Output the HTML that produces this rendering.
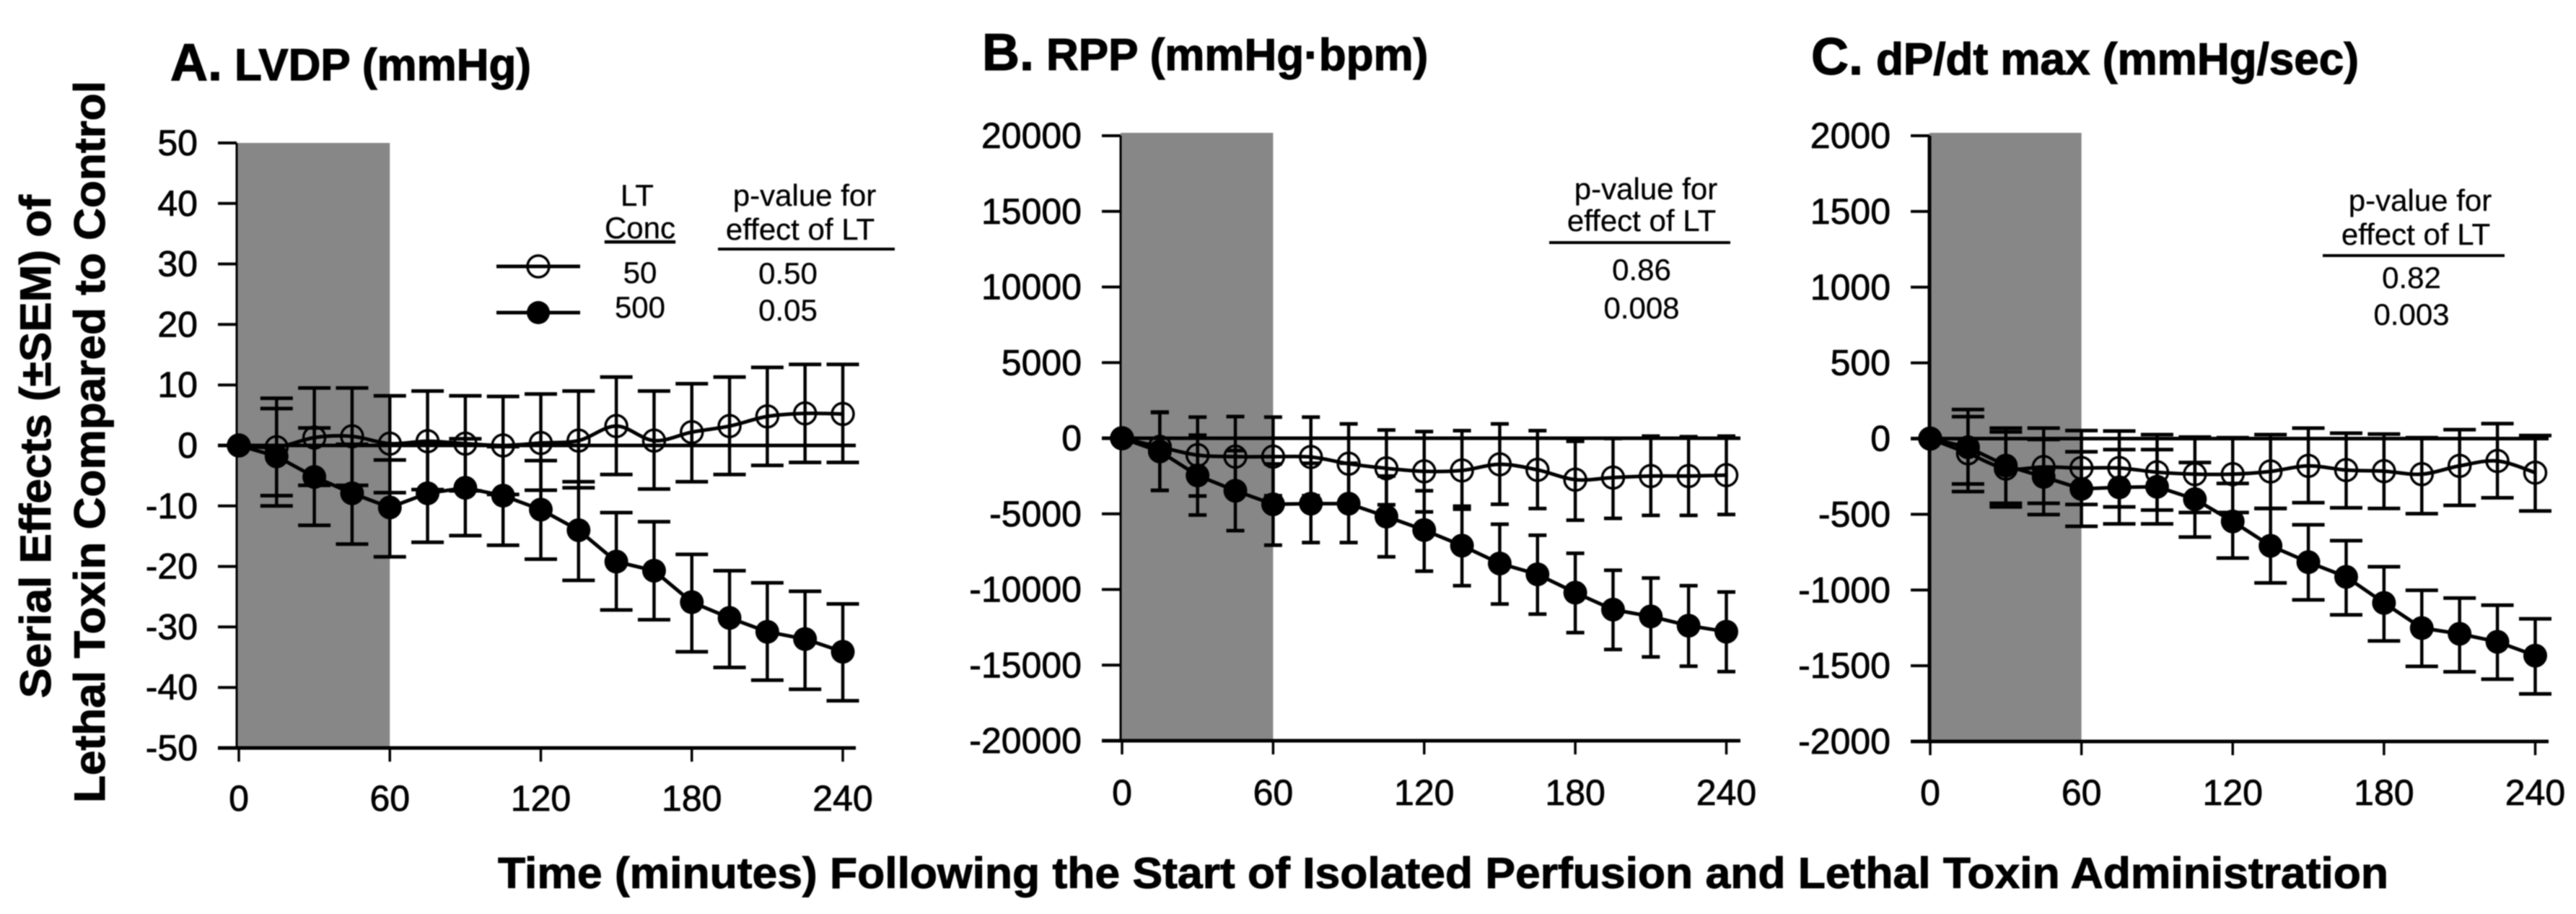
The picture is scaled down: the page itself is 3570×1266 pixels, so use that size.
<!DOCTYPE html>
<html lang="en">
<head>
<meta charset="utf-8">
<title>Serial Effects of Lethal Toxin Compared to Control</title>
<style>
html,body{margin:0;padding:0;background:#fff;}
svg{display:block;filter:blur(0.7px);}
text{font-family:"Liberation Sans",Arial,sans-serif;fill:#000;}
.tick{font-size:50px;stroke:#000;stroke-width:0.8px;}
.note{font-size:42px;stroke:#000;stroke-width:0.3px;}
.ttl{font-weight:bold;font-size:62px;stroke:#000;stroke-width:1.2px;}
.ttl-l{font-weight:bold;font-size:72px;stroke:#000;stroke-width:1.2px;}
.axt{font-weight:bold;font-size:60px;stroke:#000;stroke-width:1px;}
</style>
</head>
<body>
<svg id="fig" xmlns="http://www.w3.org/2000/svg" width="3570" height="1266" viewBox="0 0 3570 1266">
  <rect x="0" y="0" width="3570" height="1266" fill="#fff"/>

  <g id="panel-a"></g>
  <g id="panel-b"></g>
  <g id="panel-c"></g>

  <text class="ttl-l" x="236" y="111">A.</text>
  <text class="ttl" x="325" y="111">LVDP (mmHg)</text>
  <text class="ttl-l" x="1361" y="97">B.</text>
  <text class="ttl" x="1450" y="97">RPP (mmHg·bpm)</text>
  <text class="ttl-l" x="2510" y="103">C.</text>
  <text class="ttl" x="2600" y="103" textLength="669" lengthAdjust="spacingAndGlyphs">dP/dt max (mmHg/sec)</text>

  <text class="axt" transform="translate(70,967) rotate(-90)" textLength="697" lengthAdjust="spacingAndGlyphs">Serial Effects (±SEM) of</text>
  <text class="axt" transform="translate(145,1112) rotate(-90)" textLength="1000" lengthAdjust="spacingAndGlyphs">Lethal Toxin Compared to Control</text>
  <text class="axt" x="690" y="1230" textLength="2620" lengthAdjust="spacingAndGlyphs">Time (minutes) Following the Start of Isolated Perfusion and Lethal Toxin Administration</text>

  <g id="legend-a">
    <text class="note" x="883" y="285" text-anchor="middle">LT</text>
    <text class="note" x="887" y="330" text-anchor="middle" text-decoration="underline">Conc</text>
    <text class="note" x="1115" y="285" text-anchor="middle">p-value for</text>
    <text class="note" x="1109" y="332" text-anchor="middle">effect of LT</text>
    <line x1="995" x2="1240" y1="345" y2="345" stroke="#000" stroke-width="4"/>
    <line x1="688" x2="804" y1="369" y2="369" stroke="#000" stroke-width="5"/>
    <circle cx="746" cy="369" r="15" fill="none" stroke="#000" stroke-width="3.5"/>
    <line x1="688" x2="804" y1="433" y2="433" stroke="#000" stroke-width="5"/>
    <circle cx="746" cy="433" r="16" fill="#000"/>
    <text class="note" x="887" y="392" text-anchor="middle">50</text>
    <text class="note" x="887" y="440" text-anchor="middle">500</text>
    <text class="note" x="1092" y="393" text-anchor="middle">0.50</text>
    <text class="note" x="1092" y="444" text-anchor="middle">0.05</text>
  </g>

  <g id="pvals-b">
    <text class="note" x="2281" y="276" text-anchor="middle">p-value for</text>
    <text class="note" x="2275" y="320" text-anchor="middle">effect of LT</text>
    <line x1="2147" x2="2398" y1="336" y2="336" stroke="#000" stroke-width="4"/>
    <text class="note" x="2275" y="388" text-anchor="middle">0.86</text>
    <text class="note" x="2275" y="441" text-anchor="middle">0.008</text>
  </g>

  <g id="pvals-c">
    <text class="note" x="3354" y="292" text-anchor="middle">p-value for</text>
    <text class="note" x="3348" y="339" text-anchor="middle">effect of LT</text>
    <line x1="3219" x2="3471" y1="354" y2="354" stroke="#000" stroke-width="4"/>
    <text class="note" x="3342" y="399" text-anchor="middle">0.82</text>
    <text class="note" x="3342" y="450" text-anchor="middle">0.003</text>
  </g>
</svg>

<script>
// Shared categories and tick labels
const timesMin = [0,15,30,45,60,75,90,105,120,135,150,165,180,195,210,225,240];
const xTickLabels = [0,60,120,180,240];
const exposureEndMin = 60;

// Panel A: LVDP (mmHg)
const aTicks = [50,40,30,20,10,0,-10,-20,-30,-40,-50];
const aOpenMean  = [0,-0.3,1.3,1.5,0.3,0.7,0.3,0,0.4,0.8,3.2,0.8,2.2,3.2,4.8,5.3,5.2];
const aOpenHigh  = [0,7.8,9.5,9.5,8.2,9,8.2,8.1,8.5,9,11.3,9,10.2,11.3,12.9,13.4,13.4];
const aOpenLow   = [0,-8.3,-6.6,-6.6,-7.8,-7.3,-7.5,-8.1,-7.4,-7,-4.8,-7.2,-6,-4.8,-3.3,-2.8,-2.8];
const aFillMean  = [0,-1.8,-5.2,-7.9,-10.25,-7.9,-7,-8.3,-10.6,-14,-19.2,-20.7,-25.9,-28.5,-30.8,-32,-34.1];
const aFillHigh  = [0,6.1,2.9,0.2,-2.4,0.5,1.1,-0.2,-2.5,-6,-11.1,-12.6,-18,-20.7,-22.7,-24.1,-26.2];
const aFillLow   = [0,-10,-13.2,-16.3,-18.4,-16,-14.9,-16.5,-18.8,-22.3,-27.2,-28.8,-34.1,-36.7,-38.8,-40.3,-42.2];

// Panel B: RPP (mmHg·bpm)
const bTicks = [20000,15000,10000,5000,0,-5000,-10000,-15000,-20000];
const bOpenMean  = [0,-570,-1117,-1220,-1220,-1240,-1685,-1990,-2190,-2130,-1725,-2090,-2740,-2600,-2500,-2500,-2440];
const bOpenHigh  = [0,1700,1395,1430,1395,1395,950,540,440,500,950,500,-200,-20,140,100,140];
const bOpenLow   = [0,-3450,-3820,-3800,-3800,-3800,-4300,-4400,-4870,-4490,-4365,-4650,-5420,-5300,-5100,-5100,-5040];
const bFillMean  = [0,-870,-2460,-3470,-4365,-4325,-4325,-5180,-6070,-7100,-8280,-8995,-10210,-11330,-11780,-12390,-12790];
const bFillHigh  = [0,1730,200,-820,-1700,-1650,-1650,-2500,-3470,-4690,-5685,-6415,-7610,-8730,-9240,-9750,-10170];
const bFillLow   = [0,-3450,-5080,-6110,-7070,-6900,-6900,-7840,-8790,-9750,-10960,-11630,-12850,-13970,-14460,-15070,-15430];

// Panel C: dP/dt max (mmHg/sec)
const cTicks = [2000,1500,1000,500,0,-500,-1000,-1500,-2000];
const cOpenMean  = [0,-97,-198,-188,-194,-194,-222,-235,-235,-217,-180,-208,-215,-235,-180,-148,-225];
const cOpenHigh  = [0,192,69,69,53,50,26,10,6,26,69,36,30,6,59,99,20];
const cOpenLow   = [0,-300,-427,-427,-435,-451,-472,-488,-488,-461,-423,-457,-461,-496,-441,-391,-478];
const cFillMean  = [0,-57,-178,-253,-332,-322,-318,-400,-547,-708,-816,-913,-1085,-1251,-1289,-1342,-1433];
const cFillHigh  = [0,145,44,-6,-87,-73,-73,-158,-296,-461,-569,-674,-846,-1002,-1053,-1100,-1190];
const cFillLow   = [0,-350,-451,-502,-579,-563,-563,-650,-789,-953,-1065,-1164,-1336,-1504,-1540,-1589,-1686];

const SVGNS = 'http://www.w3.org/2000/svg';
function mk(parent, tag, attrs, txt) {
  const el = document.createElementNS(SVGNS, tag);
  for (const k in attrs) el.setAttribute(k, attrs[k]);
  if (txt !== undefined) el.textContent = txt;
  parent.appendChild(el);
  return el;
}
function smoothPath(pts) {
  let d = 'M' + pts[0][0] + ' ' + pts[0][1];
  for (let i = 0; i < pts.length - 1; i++) {
    const p0 = pts[Math.max(i - 1, 0)], p1 = pts[i], p2 = pts[i + 1], p3 = pts[Math.min(i + 2, pts.length - 1)];
    const c1x = p1[0] + (p2[0] - p0[0]) / 6, c1y = p1[1] + (p2[1] - p0[1]) / 6;
    const c2x = p2[0] - (p3[0] - p1[0]) / 6, c2y = p2[1] - (p3[1] - p1[1]) / 6;
    d += ' C' + c1x + ' ' + c1y + ' ' + c2x + ' ' + c2y + ' ' + p2[0] + ' ' + p2[1];
  }
  return d;
}

function drawSeries(g, xf, yf, means, highs, lows, filled, capW) {
  const label = filled ? '500' : '50';
  const bars = mk(g, 'g', {});
  
  
  means.forEach(function (m, i) {
    if (highs[i] === lows[i]) return;
    const x = xf(timesMin[i]);
    const stem = mk(bars, 'line', {x1:x, x2:x, y1:yf(highs[i]), y2:yf(lows[i]), stroke:'#000', 'stroke-width':4.5});
    
    
    const capHi = mk(bars, 'line', {x1:x-capW/2, x2:x+capW/2, y1:yf(highs[i]), y2:yf(highs[i]), stroke:'#000', 'stroke-width':5});
    
    
    const capLo = mk(bars, 'line', {x1:x-capW/2, x2:x+capW/2, y1:yf(lows[i]), y2:yf(lows[i]), stroke:'#000', 'stroke-width':5});
    
    
  });
  const pts = means.map(function (m, i) { return [xf(timesMin[i]), yf(m)]; });
  const d = filled ? 'M' + pts.map(function (p) { return p[0] + ' ' + p[1]; }).join(' L') : smoothPath(pts);
  const line = mk(g, 'path', {d:d, fill:'none', stroke:'#000', 'stroke-width':5, 'stroke-linejoin':'round'});
  
  
  means.forEach(function (m, i) {
    const c = filled
      ? mk(g, 'circle', {cx:xf(timesMin[i]), cy:yf(m), r:16.5, fill:'#000'})
      : mk(g, 'circle', {cx:xf(timesMin[i]), cy:yf(m), r:15, fill:'none', stroke:'#000', 'stroke-width':3.5});
    
    
  });
}

function drawPanel(id, cfg, ticks, openMean, openHigh, openLow, fillMean, fillHigh, fillLow) {
  const g = document.getElementById(id);
  const vMax = ticks[0], vMin = ticks[ticks.length - 1];
  const xf = function (t) { return cfg.x0 + (t / 240) * (cfg.x240 - cfg.x0); };
  const yf = function (v) { return cfg.yBottom - ((v - vMin) / (vMax - vMin)) * (cfg.yBottom - cfg.yTop); };

  const shade = mk(g, 'rect', {x:cfg.axisX, y:cfg.shadeTop, width:xf(exposureEndMin) - cfg.axisX, height:cfg.yBottom - cfg.shadeTop, fill:'#878787'});
  
  

  const yAxis = mk(g, 'line', {x1:cfg.axisX, x2:cfg.axisX, y1:yf(vMax), y2:cfg.yBottom, stroke:'#000', 'stroke-width':cfg.axisW});
  
  
  const xAxis = mk(g, 'line', {x1:cfg.axisX - 26, x2:cfg.xEnd, y1:cfg.yBottom, y2:cfg.yBottom, stroke:'#000', 'stroke-width':5});
  
  
  const zero = mk(g, 'line', {x1:cfg.axisX - 26, x2:cfg.xEnd, y1:yf(0), y2:yf(0), stroke:'#000', 'stroke-width':5});
  
  

  ticks.forEach(function (v) {
    const y = yf(v);
    const tk = mk(g, 'line', {x1:cfg.axisX - 26, x2:cfg.axisX, y1:y, y2:y, stroke:'#000', 'stroke-width':4});
    
    
    const lb = mk(g, 'text', {x:cfg.yLabelX, y:y + 17, 'text-anchor':'end', class:'tick'}, String(v));
    
    
  });
  xTickLabels.forEach(function (t) {
    const x = xf(t);
    const tk = mk(g, 'line', {x1:x, x2:x, y1:cfg.yBottom, y2:cfg.yBottom + 19, stroke:'#000', 'stroke-width':3.5});
    
    
    const lb = mk(g, 'text', {x:x, y:cfg.xLabelY, 'text-anchor':'middle', class:'tick'}, String(t));
    
    
  });

  drawSeries(g, xf, yf, openMean, openHigh, openLow, false, cfg.capW);
  drawSeries(g, xf, yf, fillMean, fillHigh, fillLow, true, cfg.capW);
}

drawPanel('panel-a',
  {x0:331, x240:1168, axisX:328, axisW:3, xEnd:1186, yTop:198, yBottom:1036, shadeTop:198, yLabelX:274, xLabelY:1123, capW:45},
  aTicks, aOpenMean, aOpenHigh, aOpenLow, aFillMean, aFillHigh, aFillLow);
drawPanel('panel-b',
  {x0:1555, x240:2392.5, axisX:1553, axisW:3, xEnd:2412, yTop:188, yBottom:1026, shadeTop:184, yLabelX:1499, xLabelY:1115, capW:25},
  bTicks, bOpenMean, bOpenHigh, bOpenLow, bFillMean, bFillHigh, bFillLow);
drawPanel('panel-c',
  {x0:2675, x240:3513.5, axisX:2674, axisW:5, xEnd:3532, yTop:188, yBottom:1027, shadeTop:184, yLabelX:2620, xLabelY:1115, capW:45},
  cTicks, cOpenMean, cOpenHigh, cOpenLow, cFillMean, cFillHigh, cFillLow);
</script>
</body>
</html>
